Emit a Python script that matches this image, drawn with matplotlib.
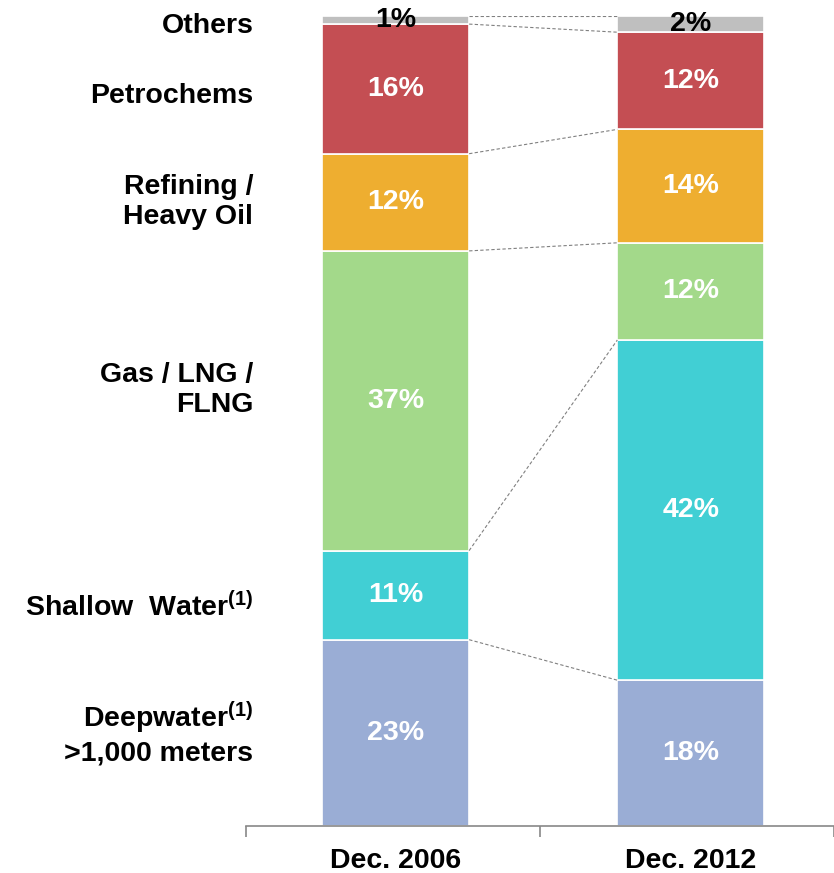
import numpy as np
import matplotlib.pyplot as plt

plt.rcParams['font.family'] = ['Liberation Sans', 'DejaVu Sans']
plt.rcParams['font.weight'] = 'bold'
plt.rcParams['mathtext.fontset'] = 'custom'
plt.rcParams['mathtext.rm'] = 'Liberation Sans:bold'
plt.rcParams['mathtext.bf'] = 'Liberation Sans:bold'
plt.rcParams['mathtext.default'] = 'bf'

# Data (bottom to top)
periods = ["Dec. 2006", "Dec. 2012"]
categories = ["Deepwater$^{(1)}$\n>1,000 meters", "Shallow  Water$^{(1)}$", "Gas / LNG /\nFLNG",
              "Refining /\nHeavy Oil", "Petrochems", "Others"]
share_2006 = [23, 11, 37, 12, 16, 1]
share_2012 = [18, 42, 12, 14, 12, 2]
colors = ["#9AADD5", "#41CFD4", "#A3D98A", "#EEAE30", "#C44E53", "#BFBFBF"]
text_colors = ["white", "white", "white", "white", "white", "black"]
# vertical nudges for the category labels (points)
label_nudge = [0, -8, 8, 0, -5, -4]

W, H = 834, 873
FS = 20.5
fig = plt.figure(figsize=(W / 100, H / 100), dpi=100)
ax = fig.add_axes([246 / W, (H - 826) / H, (834 - 246) / W, (826 - 16) / H])

xpos = [0.509, 1.513]
width = 0.5
values = np.array([share_2006, share_2012])

for i, x in enumerate(xpos):
    bottoms = np.concatenate([[0], np.cumsum(values[i])[:-1]])
    ax.bar(x, values[i], width=width, bottom=bottoms, color=colors,
           edgecolor="white", linewidth=1.2)
    for v, b, tc in zip(values[i], bottoms, text_colors):
        ax.text(x, b + v / 2, f"{v}%", ha="center", va="center",
                color=tc, fontsize=FS, fontweight="bold")

# dashed connectors between the tops of each segment
tops = np.cumsum(values, axis=1)
for t1, t2 in zip(tops[0], tops[1]):
    ax.plot([xpos[0] + width / 2, xpos[1] - width / 2], [t1, t2],
            color="#808080", linestyle=(0, (3, 2)), linewidth=0.8)

# category labels on the left
bottoms0 = np.concatenate([[0], tops[0][:-1]])
for lab, v, b, dy in zip(categories, share_2006, bottoms0, label_nudge):
    ax.annotate(lab, xy=(0.025, b + v / 2), xytext=(0, dy), textcoords="offset points",
                ha="right", va="center", fontsize=FS, fontweight="bold",
                multialignment="right", annotation_clip=False)

ax.set_xlim(0, 2)
ax.set_ylim(0, 100)
ax.set_yticks([])
ax.set_xticks([0, 1, 2])
ax.set_xticklabels([])
ax.set_xticks(xpos, minor=True)
ax.set_xticklabels(periods, minor=True, fontsize=FS, fontweight="bold")
ax.tick_params(axis="x", which="major", length=8, width=1.2, color="#888888", direction="out")
ax.tick_params(axis="x", which="minor", length=0, pad=16)
for s in ["top", "left", "right"]:
    ax.spines[s].set_visible(False)
ax.spines["bottom"].set_color("#888888")
ax.spines["bottom"].set_linewidth(1.2)

fig.savefig("out.png", dpi=100)
